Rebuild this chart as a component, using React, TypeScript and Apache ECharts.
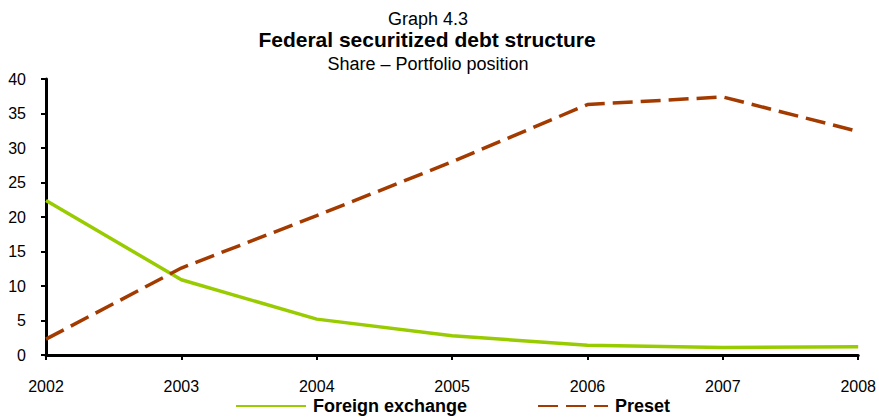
import React, { useEffect, useRef } from "react";
import * as echarts from "echarts";

const years = ["2002", "2003", "2004", "2005", "2006", "2007", "2008"];
const foreignExchange = [22.4, 10.9, 5.2, 2.8, 1.4, 1.1, 1.2];
const preset = [2.3, 12.6, 20.2, 28.0, 36.3, 37.4, 32.4];
const yTicks = { min: 0, max: 40, interval: 5 };

const FONT = "'Liberation Sans', Arial, sans-serif";

export default function App() {
  const ref = useRef<HTMLDivElement>(null);
  useEffect(() => {
    if (!ref.current) return;
    const chart = echarts.init(ref.current, undefined, { renderer: "svg" });
    chart.setOption({
      animation: false,
      backgroundColor: "#ffffff",
      textStyle: { fontFamily: FONT },
      title: [
        { text: "Graph 4.3", left: 423, textAlign: "center", top: 5, textStyle: { fontSize: 18, fontWeight: "normal", color: "#000", fontFamily: FONT } },
        { text: "Federal securitized debt structure", left: 422, textAlign: "center", top: 24, textStyle: { fontSize: 21, fontWeight: "bold", color: "#000", fontFamily: FONT } },
        { text: "Share \u2013 Portfolio position", left: 423, textAlign: "center", top: 50, textStyle: { fontSize: 18, fontWeight: "normal", color: "#000", fontFamily: FONT } },
      ],
      grid: { left: 46, right: 20, top: 79, bottom: 62, containLabel: false },
      legend: {
        top: 397,
        left: 235,
        padding: 0,
        itemWidth: 70,
        itemHeight: 10,
        itemGap: 70,
        itemStyle: { opacity: 0 },
        textStyle: { fontSize: 18, fontWeight: "bold", color: "#000", fontFamily: FONT, padding: [0, 0, 0, 2] },
        data: ["Foreign exchange", "Preset"],
      },
      xAxis: {
        type: "category",
        data: years,
        boundaryGap: false,
        axisLine: { lineStyle: { color: "#000", width: 3 } },
        axisTick: { show: true, length: 5, lineStyle: { color: "#000", width: 2 } },
        axisLabel: { fontSize: 16, color: "#000", margin: 23, fontFamily: FONT },
        splitLine: { show: false },
      },
      yAxis: {
        type: "value",
        min: yTicks.min,
        max: yTicks.max,
        interval: yTicks.interval,
        axisLine: { show: true, lineStyle: { color: "#000", width: 3 } },
        axisTick: { show: true, length: 5, lineStyle: { color: "#000", width: 2 } },
        axisLabel: { fontSize: 16, color: "#000", margin: 20, fontFamily: FONT },
        splitLine: { show: false },
      },
      series: [
        {
          name: "Foreign exchange",
          type: "line",
          data: foreignExchange,
          symbol: "none",
          color: "#99CC00",
          lineStyle: { color: "#99CC00", width: 3.5 },
        },
        {
          name: "Preset",
          type: "line",
          data: preset,
          symbol: "none",
          color: "#A33B00",
          lineStyle: { color: "#A33B00", width: 3.5, type: [20, 8] },
        },
      ],
    });
    return () => chart.dispose();
  }, []);
  return <div ref={ref} style={{ width: 879, height: 417, position: "absolute", left: 0, top: 0 }} />;
}
